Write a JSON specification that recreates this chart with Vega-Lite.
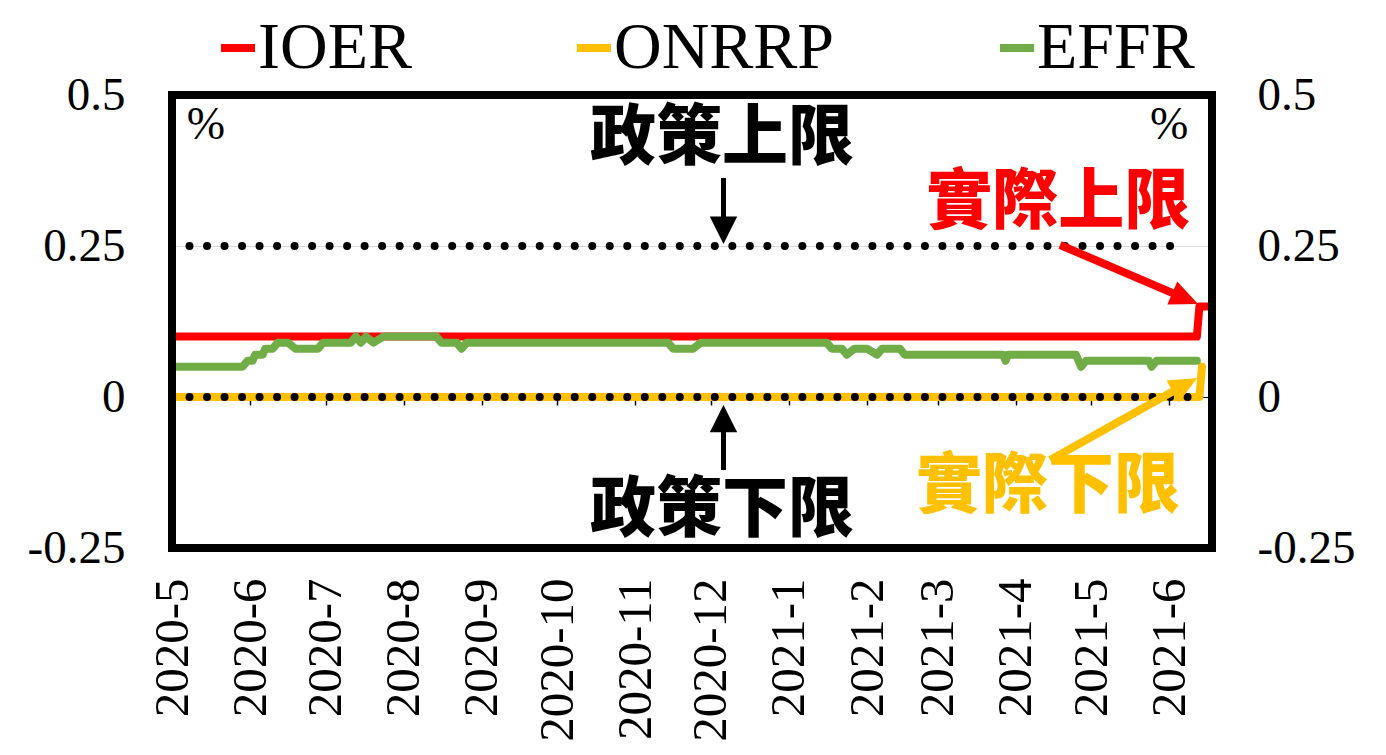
{
  "$schema": "https://vega.github.io/schema/vega-lite/v6.json",
  "width": 1040,
  "height": 453,
  "autosize": {"type": "none"},
  "padding": {"left": 172, "top": 95, "right": 174, "bottom": 207},
  "background": "white",
  "config": {"view": {"stroke": null}, "font": "Liberation Serif"},
  "datasets": {
    "rates": [
      {"date": "2020/05/01", "series": "IOER", "value": 0.10},
      {"date": "2021/06/12", "series": "IOER", "value": 0.10},
      {"date": "2021/06/13", "series": "IOER", "value": 0.15},
      {"date": "2021/06/18", "series": "IOER", "value": 0.15},
      {"date": "2020/05/01", "series": "ONRRP", "value": 0.0},
      {"date": "2021/06/13", "series": "ONRRP", "value": 0.0},
      {"date": "2021/06/14", "series": "ONRRP", "value": 0.05},
      {"date": "2020/05/01", "series": "EFFR", "value": 0.05},
      {"date": "2020/05/29", "series": "EFFR", "value": 0.05},
      {"date": "2020/05/31", "series": "EFFR", "value": 0.06},
      {"date": "2020/06/02", "series": "EFFR", "value": 0.06},
      {"date": "2020/06/03", "series": "EFFR", "value": 0.07},
      {"date": "2020/06/06", "series": "EFFR", "value": 0.07},
      {"date": "2020/06/07", "series": "EFFR", "value": 0.08},
      {"date": "2020/06/10", "series": "EFFR", "value": 0.08},
      {"date": "2020/06/12", "series": "EFFR", "value": 0.09},
      {"date": "2020/06/16", "series": "EFFR", "value": 0.09},
      {"date": "2020/06/19", "series": "EFFR", "value": 0.08},
      {"date": "2020/06/28", "series": "EFFR", "value": 0.08},
      {"date": "2020/06/30", "series": "EFFR", "value": 0.09},
      {"date": "2020/07/11", "series": "EFFR", "value": 0.09},
      {"date": "2020/07/13", "series": "EFFR", "value": 0.10},
      {"date": "2020/07/15", "series": "EFFR", "value": 0.09},
      {"date": "2020/07/17", "series": "EFFR", "value": 0.10},
      {"date": "2020/07/20", "series": "EFFR", "value": 0.09},
      {"date": "2020/07/24", "series": "EFFR", "value": 0.10},
      {"date": "2020/08/14", "series": "EFFR", "value": 0.10},
      {"date": "2020/08/16", "series": "EFFR", "value": 0.09},
      {"date": "2020/08/22", "series": "EFFR", "value": 0.09},
      {"date": "2020/08/24", "series": "EFFR", "value": 0.08},
      {"date": "2020/08/26", "series": "EFFR", "value": 0.09},
      {"date": "2020/11/14", "series": "EFFR", "value": 0.09},
      {"date": "2020/11/16", "series": "EFFR", "value": 0.08},
      {"date": "2020/11/24", "series": "EFFR", "value": 0.08},
      {"date": "2020/11/27", "series": "EFFR", "value": 0.09},
      {"date": "2021/01/16", "series": "EFFR", "value": 0.09},
      {"date": "2021/01/18", "series": "EFFR", "value": 0.08},
      {"date": "2021/01/22", "series": "EFFR", "value": 0.08},
      {"date": "2021/01/24", "series": "EFFR", "value": 0.07},
      {"date": "2021/01/27", "series": "EFFR", "value": 0.08},
      {"date": "2021/02/01", "series": "EFFR", "value": 0.08},
      {"date": "2021/02/05", "series": "EFFR", "value": 0.07},
      {"date": "2021/02/07", "series": "EFFR", "value": 0.08},
      {"date": "2021/02/14", "series": "EFFR", "value": 0.08},
      {"date": "2021/02/16", "series": "EFFR", "value": 0.07},
      {"date": "2021/03/27", "series": "EFFR", "value": 0.07},
      {"date": "2021/03/28", "series": "EFFR", "value": 0.06},
      {"date": "2021/03/29", "series": "EFFR", "value": 0.07},
      {"date": "2021/04/25", "series": "EFFR", "value": 0.07},
      {"date": "2021/04/27", "series": "EFFR", "value": 0.05},
      {"date": "2021/04/29", "series": "EFFR", "value": 0.06},
      {"date": "2021/05/24", "series": "EFFR", "value": 0.06},
      {"date": "2021/05/25", "series": "EFFR", "value": 0.05},
      {"date": "2021/05/27", "series": "EFFR", "value": 0.06},
      {"date": "2021/06/12", "series": "EFFR", "value": 0.06}
    ]
  },
  "resolve": {"axis": {"x": "independent", "y": "independent"}},
  "layer": [
    {
      "data": {"values": [{}]},
      "mark": {"type": "rule", "color": "black", "strokeWidth": 8, "strokeCap": "round", "strokeDash": [0.01, 17.5]},
      "encoding": {
        "x": {"datum": {"year": 2020, "month": 5, "date": 1}, "type": "temporal", "axis": null,
              "scale": {"domain": [{"year": 2020, "month": 5, "date": 1}, {"year": 2021, "month": 6, "date": 18}]}},
        "x2": {"datum": {"year": 2021, "month": 6, "date": 8}},
        "y": {"datum": 0.25, "type": "quantitative", "axis": null, "scale": {"domain": [-0.25, 0.5], "nice": false, "zero": false}}
      }
    },
    {
      "data": {"name": "rates"},
      "mark": {"type": "line", "strokeWidth": 8, "strokeCap": "round", "strokeJoin": "round"},
      "encoding": {
        "x": {"field": "date", "type": "temporal",
              "scale": {"domain": [{"year": 2020, "month": 5, "date": 1}, {"year": 2021, "month": 6, "date": 18}]},
              "axis": {"orient": "bottom", "tickCount": {"interval": "month", "step": 1}, "format": "%Y-%-m", "labelAngle": -90,
                       "labelFont": "Liberation Serif", "labelFontSize": 49, "labelColor": "black", "labelPadding": 30,
                       "ticks": false, "tickSize": 0, "domain": false, "grid": false, "labelOverlap": false, "labelFlush": false,
                       "labelBound": false, "title": null}},
        "y": {"field": "value", "type": "quantitative",
              "scale": {"domain": [-0.25, 0.5], "nice": false, "zero": false},
              "axis": {"orient": "left", "values": [-0.25, 0, 0.25, 0.5],
                       "labelExpr": "datum.value < 0 ? '-' + format(-datum.value, '~g') : format(datum.value, '~g')",
                       "labelFont": "Liberation Serif", "labelFontSize": 47, "labelColor": "black", "labelPadding": 47,
                       "ticks": false, "domain": false, "grid": true, "gridColor": "#D9D9D9", "gridWidth": 1,
                       "title": null, "labelFlush": false, "labelOverlap": false}},
        "color": {"field": "series", "type": "nominal",
                  "scale": {"domain": ["IOER", "ONRRP", "EFFR"], "range": ["#FF0000", "#FFC000", "#70AD47"]},
                  "legend": {"title": null, "orient": "none", "legendX": 33, "legendY": -80, "direction": "horizontal",
                             "columns": 3, "columnPadding": 149, "symbolType": "stroke", "symbolSize": 1156,
                             "symbolStrokeWidth": 8, "labelFont": "Liberation Serif", "labelFontSize": 66,
                             "labelOffset": -13, "labelColor": "black", "labelLimit": 0}}
      }
    },
    {
      "data": {"values": [{}]},
      "mark": {"type": "rule", "color": "black", "strokeWidth": 8, "strokeCap": "round", "strokeDash": [0.01, 17.5]},
      "encoding": {
        "x": {"datum": {"year": 2020, "month": 5, "date": 1}, "type": "temporal", "axis": null},
        "x2": {"datum": {"year": 2021, "month": 6, "date": 11}},
        "y": {"datum": 0, "type": "quantitative", "axis": null}
      }
    },
    {
      "data": {"values": [{}]},
      "mark": {"type": "rule", "color": "black", "strokeWidth": 5},
      "encoding": {
        "x": {"datum": {"year": 2020, "month": 12, "date": 6}, "type": "temporal", "axis": null},
        "y": {"datum": 0.3626, "type": "quantitative", "axis": null},
        "y2": {"datum": 0.2864}
      }
    },
    {
      "data": {"values": [{}]},
      "mark": {"type": "point", "filled": true, "color": "black", "opacity": 1, "shape": "M0,0L-1,-0.5L-1,0.5Z", "size": 3000, "angle": 90},
      "encoding": {
        "x": {"datum": {"year": 2020, "month": 12, "date": 6}, "type": "temporal", "axis": null},
        "y": {"datum": 0.2533, "type": "quantitative", "axis": null}
      }
    },
    {
      "data": {"values": [{}]},
      "mark": {"type": "rule", "color": "black", "strokeWidth": 5},
      "encoding": {
        "x": {"datum": {"year": 2020, "month": 12, "date": 6}, "type": "temporal", "axis": null},
        "y": {"datum": -0.1209, "type": "quantitative", "axis": null},
        "y2": {"datum": -0.0464}
      }
    },
    {
      "data": {"values": [{}]},
      "mark": {"type": "point", "filled": true, "color": "black", "opacity": 1, "shape": "M0,0L-1,-0.5L-1,0.5Z", "size": 3000, "angle": -90},
      "encoding": {
        "x": {"datum": {"year": 2020, "month": 12, "date": 6}, "type": "temporal", "axis": null},
        "y": {"datum": -0.0132, "type": "quantitative", "axis": null}
      }
    },
    {
      "data": {"values": [{}]},
      "mark": {"type": "rule", "color": "#FF0000", "strokeWidth": 8},
      "encoding": {
        "x": {"datum": {"year": 2021, "month": 4, "date": 18, "hours": 16}, "type": "temporal", "axis": null},
        "x2": {"datum": {"year": 2021, "month": 6, "date": 5, "hours": 22}},
        "y": {"datum": 0.2517, "type": "quantitative", "axis": null},
        "y2": {"datum": 0.1657}
      }
    },
    {
      "data": {"values": [{}]},
      "mark": {"type": "point", "filled": true, "color": "#FF0000", "opacity": 1, "shape": "M0,0L-1,-0.45L-1,0.45Z", "size": 3136, "angle": 23.1},
      "encoding": {
        "x": {"datum": {"year": 2021, "month": 6, "date": 12, "hours": 11}, "type": "temporal", "axis": null},
        "y": {"datum": 0.154, "type": "quantitative", "axis": null}
      }
    },
    {
      "data": {"values": [{}]},
      "mark": {"type": "rule", "color": "#FFC000", "strokeWidth": 8},
      "encoding": {
        "x": {"datum": {"year": 2021, "month": 4, "date": 14, "hours": 17}, "type": "temporal", "axis": null},
        "x2": {"datum": {"year": 2021, "month": 6, "date": 5, "hours": 19}},
        "y": {"datum": -0.1043, "type": "quantitative", "axis": null},
        "y2": {"datum": 0.0169}
      }
    },
    {
      "data": {"values": [{}]},
      "mark": {"type": "point", "filled": true, "color": "#FFC000", "opacity": 1, "shape": "M0,0L-1,-0.45L-1,0.45Z", "size": 3136, "angle": -29.15},
      "encoding": {
        "x": {"datum": {"year": 2021, "month": 6, "date": 12, "hours": 2}, "type": "temporal", "axis": null},
        "y": {"datum": 0.0315, "type": "quantitative", "axis": null}
      }
    },
    {
      "data": {"values": [{}]},
      "mark": {"type": "text", "text": "政策上限", "font": "Noto Sans CJK TC", "fontWeight": 900, "fontSize": 66, "color": "black", "align": "center", "baseline": "middle"},
      "encoding": {
        "x": {"datum": {"year": 2020, "month": 12, "date": 5, "hours": 10}, "type": "temporal", "axis": null},
        "y": {"datum": 0.427, "type": "quantitative", "axis": null}
      }
    },
    {
      "data": {"values": [{}]},
      "mark": {"type": "text", "text": "政策下限", "font": "Noto Sans CJK TC", "fontWeight": 900, "fontSize": 66, "color": "black", "align": "center", "baseline": "middle"},
      "encoding": {
        "x": {"datum": {"year": 2020, "month": 12, "date": 5, "hours": 10}, "type": "temporal", "axis": null},
        "y": {"datum": -0.188, "type": "quantitative", "axis": null}
      }
    },
    {
      "data": {"values": [{}]},
      "mark": {"type": "text", "text": "實際上限", "font": "Noto Sans CJK TC", "fontWeight": 900, "fontSize": 66, "color": "#FF0000", "align": "center", "baseline": "middle"},
      "encoding": {
        "x": {"datum": {"year": 2021, "month": 4, "date": 17, "hours": 22}, "type": "temporal", "axis": null},
        "y": {"datum": 0.3212, "type": "quantitative", "axis": null}
      }
    },
    {
      "data": {"values": [{}]},
      "mark": {"type": "text", "text": "實際下限", "font": "Noto Sans CJK TC", "fontWeight": 900, "fontSize": 66, "color": "#FFC000", "align": "center", "baseline": "middle"},
      "encoding": {
        "x": {"datum": {"year": 2021, "month": 4, "date": 13, "hours": 22}, "type": "temporal", "axis": null},
        "y": {"datum": -0.149, "type": "quantitative", "axis": null}
      }
    },
    {
      "data": {"values": [{}]},
      "mark": {"type": "text", "text": "%", "font": "Liberation Serif", "fontSize": 46, "color": "black", "align": "center", "baseline": "middle"},
      "encoding": {
        "x": {"datum": {"year": 2020, "month": 5, "date": 14, "hours": 12}, "type": "temporal", "axis": null},
        "y": {"datum": 0.45, "type": "quantitative", "axis": null}
      }
    },
    {
      "data": {"values": [{}]},
      "mark": {"type": "text", "text": "%", "font": "Liberation Serif", "fontSize": 46, "color": "black", "align": "center", "baseline": "middle"},
      "encoding": {
        "x": {"datum": {"year": 2021, "month": 6, "date": 1}, "type": "temporal", "axis": null},
        "y": {"datum": 0.45, "type": "quantitative", "axis": null}
      }
    },
    {
      "data": {"values": [{}]},
      "mark": {"type": "rect", "filled": false, "stroke": "black", "strokeWidth": 8},
      "encoding": {
        "x": {"datum": {"year": 2020, "month": 5, "date": 1}, "type": "temporal",
              "axis": {"orient": "bottom", "offset": -151, "tickCount": {"interval": "month", "step": 1}, "labels": false,
                       "ticks": true, "tickSize": 8, "tickColor": "black", "tickWidth": 1.5, "domain": true,
                       "domainColor": "black", "domainWidth": 1, "grid": false, "title": null}},
        "x2": {"datum": {"year": 2021, "month": 6, "date": 18}},
        "y": {"datum": 0.5, "type": "quantitative",
              "axis": {"orient": "right", "values": [-0.25, 0, 0.25, 0.5],
                       "labelExpr": "datum.value < 0 ? '-' + format(-datum.value, '~g') : format(datum.value, '~g')",
                       "labelFont": "Liberation Serif", "labelFontSize": 47, "labelColor": "black", "labelPadding": 45,
                       "ticks": false, "domain": false, "grid": false, "title": null, "labelFlush": false, "labelOverlap": false}},
        "y2": {"datum": -0.25}
      }
    }
  ]
}
